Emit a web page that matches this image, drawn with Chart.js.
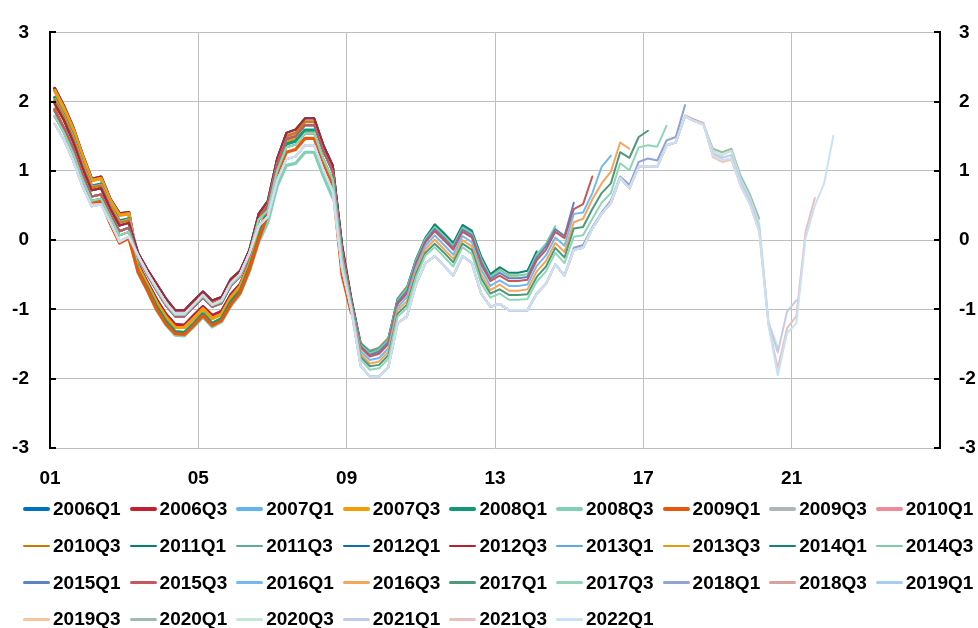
<!DOCTYPE html>
<html><head><meta charset="utf-8">
<script src="https://cdn.jsdelivr.net/npm/chart.js@4"></script>
<style>
html,body{margin:0;padding:0;background:#fff;}
#wrap{position:relative;width:978px;height:628px;overflow:hidden;font-family:"Liberation Sans",Arial,sans-serif;}
#chartBox{position:absolute;left:0;top:0;width:978px;height:500px;}
#legend{position:absolute;left:0;top:0;width:978px;height:628px;pointer-events:none;}
.li{position:absolute;height:24px;display:flex;align-items:center;white-space:nowrap;font-weight:bold;font-size:19px;color:#000;}
.li .ln{width:27px;margin-right:3px;border-radius:2px;}
</style></head>
<body><div id="wrap"><div id="chartBox"><canvas id="c"></canvas></div><div id="legend"></div></div>
<script>
// ---- labels ----
const vintages = ['2006Q1','2006Q3','2007Q1','2007Q3','2008Q1','2008Q3','2009Q1','2009Q3','2010Q1',
  '2010Q3','2011Q1','2011Q3','2012Q1','2012Q3','2013Q1','2013Q3','2014Q1','2014Q3',
  '2015Q1','2015Q3','2016Q1','2016Q3','2017Q1','2017Q3','2018Q1','2018Q3','2019Q1',
  '2019Q3','2020Q1','2020Q3','2021Q1','2021Q3','2022Q1'];
const colors = ['#0070C0','#C3202F','#63B3EE','#F59D00','#0E9A78','#7FD1B3','#E8580C','#ADB5BD','#F08A96',
  '#CC7A00','#00806E','#5BAE8E','#0B6FB0','#B8202E','#5AAAE6','#E39A0F','#0F8573','#7ACCAA',
  '#5B84C4','#C8575A','#72B8F2','#F5A65B','#4C9A78','#8ED6B6','#8FA4D2','#D9A09E','#A9CCF2',
  '#F8C49A','#9DBCAE','#BFE8D5','#C3CCE6','#E8C0BE','#C9E0F7'];
const xTickLabels = ['01','05','09','13','17','21'];
const quartersPerTick = 16;
const quartersOnAxis = 96;

// ---- values (quarterly, starting 2001Q1) ----
const hist06 = [2.19,1.93,1.62,1.23,0.88,0.91,0.59,0.38,0.40,-0.35,-0.61,-0.86,-1.07,-1.22,-1.23,-1.09,-0.96,-1.09,-1.03,-0.79,-0.64,-0.32,0.14];
const hist07 = [2.16,1.90,1.60,1.21,0.86,0.89,0.57,0.36,0.38,-0.38,-0.64,-0.90,-1.11,-1.26,-1.26,-1.13,-0.99,-1.13,-1.07,-0.83,-0.67,-0.35,0.10,0.49,1.08,1.43,1.48];
const v2008Q1 = [2.06,1.80,1.50,1.11,0.78,0.81,0.50,0.28,0.31,-0.44,-0.69,-0.96,-1.17,-1.32,-1.33,-1.20,-1.06,-1.20,-1.13,-0.89,-0.73,-0.40,0.03,0.46,1.04,1.39,1.43,1.59,1.59];
const v2008Q3 = [2.00,1.75,1.45,1.07,0.74,0.77,0.47,0.23,0.27,-0.47,-0.73,-1.01,-1.22,-1.37,-1.38,-1.25,-1.11,-1.25,-1.18,-0.95,-0.78,-0.45,-0.03,0.26,0.78,1.08,1.11,1.27,1.27,0.92,0.61];
const v2009Q1 = [1.89,1.62,1.30,0.90,0.55,0.56,0.24,-0.04,0.03,-0.46,-0.72,-1.00,-1.21,-1.35,-1.36,-1.23,-1.09,-1.23,-1.16,-0.93,-0.76,-0.43,0.00,0.38,0.94,1.27,1.31,1.47,1.47,1.10,0.80,-0.50,-1.05];
const hist09 = [2.03,1.78,1.47,1.09,0.76,0.79,0.49,0.25,0.29,-0.21,-0.45,-0.67,-0.88,-1.05,-1.05,-0.91,-0.78,-0.91,-0.86,-0.60,-0.47,-0.17,0.34,0.54,1.14,1.50,1.55,1.71,1.71,1.33,1.03,-0.11,-0.87];
const hist11 = [1.97,1.73,1.42,1.04,0.72,0.75,0.45,0.21,0.25,-0.18,-0.42,-0.63,-0.84,-1.01,-1.01,-0.87,-0.74,-0.87,-0.82,-0.56,-0.44,-0.14,0.38,0.57,1.18,1.55,1.60,1.76,1.76,1.37,1.08,-0.07,-0.85];
const hist13 = [1.87,1.62,1.33,0.95,0.63,0.66,0.38,0.13,0.18,-0.25,-0.50,-0.73,-0.94,-1.10,-1.10,-0.96,-0.83,-0.96,-0.91,-0.66,-0.52,-0.22,0.28,0.51,1.10,1.46,1.50,1.66,1.66,1.28,0.99,-0.16,-0.90];
const hist16 = [1.79,1.55,1.25,0.88,0.57,0.60,0.33,0.07,0.12,-0.24,-0.48,-0.71,-0.92,-1.08,-1.08,-0.94,-0.81,-0.94,-0.89,-0.64,-0.51,-0.20,0.30,0.43,1.00,1.34,1.38,1.54,1.54,1.17,0.87,-0.26,-0.95];
const late = [1.68,1.45,1.15,0.78,0.49,0.52,0.26,-0.02,0.05,
  -0.22,-0.47,-0.69,-0.90,-1.06,-1.06,-0.93,-0.79,-0.93,-0.87,-0.62,-0.49,-0.19,0.20,
  0.34,0.86,1.17,1.21,1.37,1.37,1.01,0.70,-0.41,-1.00,
  -1.81,-1.97,-1.97,-1.83,-1.20,-1.10,-0.63,-0.33,-0.23,-0.37,-0.51,-0.23,-0.33,-0.77,-0.96,-0.92,-1.01,-1.01,-1.01,-0.77,-0.63,-0.35,-0.51,
  -0.14,-0.11,0.17,0.38,0.54,0.90,0.75,1.06,1.07,1.06,1.37,1.41,1.79,1.72,1.67,1.22,1.15,1.18,0.78,0.52,0.12,-1.22,-1.95,-1.34,-1.20,0.03,0.50,0.82,1.51];

// recent quarters of each vintage (from 2009Q2 on, or later where stated)
const tail2009Q3 = [-1.51,-1.63];
const tail2010Q1 = [-1.52,-1.64,-1.60,-1.46];
const tail2010Q3 = [-1.48,-1.60,-1.55,-1.41,-0.84,-0.67];
const tail2011Q1 = [-1.50,-1.62,-1.57,-1.43,-0.86,-0.69,-0.28,0.03];
const tail2011Q3 = [-1.49,-1.61,-1.56,-1.42,-0.85,-0.68,-0.27,0.04,0.22,0.09];
const tail2012Q1 = [-1.50,-1.62,-1.58,-1.44,-0.86,-0.70,-0.28,0.03,0.20,0.07,-0.07,0.19];
const tail2012Q3 = [-1.51,-1.64,-1.59,-1.45,-0.88,-0.71,-0.30,0.01,0.18,0.05,-0.09,0.18,0.09,-0.28];
const tail2013Q1 = [-1.49,-1.61,-1.57,-1.43,-0.85,-0.69,-0.27,0.03,0.21,0.08,-0.06,0.20,0.12,-0.25,-0.51,-0.41];
const tail2013Q3 = [-1.51,-1.63,-1.58,-1.44,-0.87,-0.70,-0.29,0.02,0.19,0.06,-0.08,0.18,0.10,-0.27,-0.53,-0.43,-0.51,-0.51];
const tail2014Q1 = [-1.50,-1.62,-1.58,-1.44,-0.86,-0.70,-0.28,0.03,0.23,0.10,-0.04,0.22,0.14,-0.23,-0.49,-0.39,-0.47,-0.47,-0.44,-0.16];
const tail2014Q3 = [-1.51,-1.63,-1.58,-1.44,-0.87,-0.70,-0.29,0.02,0.19,0.06,-0.08,0.18,0.10,-0.27,-0.53,-0.43,-0.51,-0.51,-0.49,-0.21,-0.05,0.20];
const tail2015Q1 = [-1.53,-1.66,-1.61,-1.47,-0.89,-0.74,-0.32,-0.01,0.16,0.03,-0.11,0.15,0.07,-0.31,-0.56,-0.47,-0.55,-0.55,-0.53,-0.25,-0.09,0.16,0.06,0.54];
const tail2015Q3 = [-1.55,-1.68,-1.64,-1.50,-0.92,-0.77,-0.34,-0.03,0.13,0.00,-0.14,0.12,0.04,-0.35,-0.59,-0.51,-0.59,-0.59,-0.57,-0.29,-0.14,0.12,0.03,0.45,0.52,0.92];
const tail2016Q1 = [-1.60,-1.73,-1.70,-1.56,-0.97,-0.82,-0.39,-0.08,0.07,-0.07,-0.21,0.06,-0.03,-0.42,-0.66,-0.58,-0.66,-0.66,-0.64,-0.37,-0.22,0.04,-0.08,0.38,0.40,0.68,1.06,1.22];
const tail2016Q3 = [-1.64,-1.78,-1.75,-1.61,-1.01,-0.88,-0.44,-0.13,0.01,-0.13,-0.27,0.00,-0.09,-0.49,-0.72,-0.64,-0.73,-0.73,-0.71,-0.45,-0.30,-0.04,-0.17,0.26,0.31,0.59,0.82,0.99,1.41,1.32];
const tail2017Q1 = [-1.68,-1.82,-1.80,-1.66,-1.06,-0.93,-0.48,-0.18,-0.05,-0.18,-0.32,-0.05,-0.14,-0.55,-0.77,-0.71,-0.79,-0.79,-0.78,-0.53,-0.38,-0.11,-0.25,0.17,0.19,0.45,0.68,0.82,1.27,1.19,1.49,1.58];
const tail2017Q3 = [-1.72,-1.87,-1.85,-1.71,-1.10,-0.98,-0.53,-0.22,-0.10,-0.24,-0.38,-0.10,-0.20,-0.62,-0.83,-0.77,-0.86,-0.86,-0.85,-0.60,-0.45,-0.18,-0.33,0.05,0.07,0.31,0.54,0.68,1.11,1.01,1.34,1.37,1.35,1.65];
const tail2018Q1 = [-0.11,-0.07,0.19,0.40,0.57,0.92,0.80,1.13,1.18,1.15,1.44,1.49,1.95];   // from 2015Q1
const tail2018Q3 = [1.80,1.74,1.69];                                                      // from 2018Q1
const tail2019Q1 = [1.68,1.25,1.19];                                                      // from 2018Q3
const tail2019Q3 = [1.20,1.13,1.16,0.79];                                                 // from 2018Q4
const tail2020Q1 = [1.32,1.27,1.32,0.93,0.66,0.31];                                       // from 2018Q4
const tail2020Q3 = [1.29,1.23,1.29,0.88,0.61,0.24,-1.18,-1.55];                           // from 2018Q4
const tail2021Q1 = [1.25,1.19,1.23,0.84,0.57,0.18,-1.20,-1.62,-1.03,-0.87];               // from 2018Q4
const tail2021Q3 = [-1.22,-1.85,-1.27,-1.10,0.12,0.61];                                   // from 2020Q2

const series = [
  hist06.slice(0,21), hist06, hist07.slice(0,25), hist07, v2008Q1, v2008Q3, v2009Q1,
  hist09.concat(tail2009Q3), hist09.concat(tail2010Q1), hist09.concat(tail2010Q3),
  hist11.concat(tail2011Q1), hist11.concat(tail2011Q3), hist11.concat(tail2012Q1), hist11.concat(tail2012Q3),
  hist13.concat(tail2013Q1), hist13.concat(tail2013Q3), hist13.concat(tail2014Q1), hist13.concat(tail2014Q3),
  hist13.concat(tail2015Q1), hist13.concat(tail2015Q3),
  hist16.concat(tail2016Q1), hist16.concat(tail2016Q3), hist16.concat(tail2017Q1), hist16.concat(tail2017Q3),
  late.slice(0,56).concat(tail2018Q1), late.slice(0,68).concat(tail2018Q3), late.slice(0,70).concat(tail2019Q1),
  late.slice(0,71).concat(tail2019Q3), late.slice(0,71).concat(tail2020Q1), late.slice(0,71).concat(tail2020Q3),
  late.slice(0,71).concat(tail2021Q1), late.slice(0,77).concat(tail2021Q3), late
];

const thickCount = 9;
const FONT = '"Liberation Sans", Arial, sans-serif';

const datasets = vintages.map((name, k) => ({
  label: name,
  data: series[k].map((v, i) => ({x: i + 0.5, y: v})),
  borderColor: colors[k],
  backgroundColor: colors[k],
  borderWidth: k < thickCount ? 3.2 : 2,
  pointRadius: 0,
  pointHoverRadius: 0,
  tension: 0,
  fill: false,
  borderJoinStyle: 'round',
  borderCapStyle: 'round',
  order: vintages.length - k,
  yAxisID: 'y'
}));

const innerTicks = {
  id: 'innerTicks',
  afterDraw(chart) {
    const ctx = chart.ctx;
    const area = chart.chartArea;
    ctx.save();
    ctx.strokeStyle = '#000';
    ctx.lineWidth = 2;
    ['y', 'y2'].forEach(id => {
      const sc = chart.scales[id];
      sc.ticks.forEach(t => {
        const py = Math.round(sc.getPixelForValue(t.value));
        ctx.beginPath();
        if (id === 'y') { ctx.moveTo(area.left, py); ctx.lineTo(area.left + 6, py); }
        else { ctx.moveTo(area.right - 6, py); ctx.lineTo(area.right, py); }
        ctx.stroke();
      });
    });
    ctx.restore();
  }
};

const tickFont = {family: FONT, size: 19, weight: 'bold'};

new Chart(document.getElementById('c'), {
  type: 'line',
  data: {datasets},
  plugins: [innerTicks],
  options: {
    responsive: true,
    maintainAspectRatio: false,
    animation: false,
    devicePixelRatio: 1,
    layout: {padding: {top: 22, left: 0, right: 0, bottom: 0}},
    plugins: {legend: {display: false}, tooltip: {enabled: false}},
    scales: {
      x: {
        type: 'linear', min: 0, max: quartersOnAxis,
        ticks: {stepSize: quartersPerTick, autoSkip: false, maxRotation: 0, padding: 19, color: '#000', font: tickFont,
          callback: v => { const s = xTickLabels[v / quartersPerTick]; return s === undefined ? '' : s; }},
        grid: {color: '#BFBFBF', lineWidth: 1, drawTicks: false},
        border: {display: false},
        afterFit: s => { s.height = 52; }
      },
      y: {
        position: 'left', min: -3, max: 3,
        ticks: {stepSize: 1, padding: 21, color: '#000', font: tickFont},
        grid: {color: '#BFBFBF', lineWidth: 1, drawTicks: false},
        border: {display: true, color: '#000', width: 2},
        afterFit: s => { s.width = 50; }
      },
      y2: {
        position: 'right', min: -3, max: 3,
        ticks: {stepSize: 1, padding: 19, color: '#000', font: tickFont},
        grid: {display: false, drawTicks: false},
        border: {display: true, color: '#000', width: 2},
        afterFit: s => { s.width = 38; }
      }
    }
  }
});

// legend (HTML), 9 columns
const legend = document.getElementById('legend');
vintages.forEach((name, k) => {
  const col = k % 9, row = Math.floor(k / 9);
  const it = document.createElement('div');
  it.className = 'li';
  it.style.left = (23 + col * 106.6) + 'px';
  it.style.top = (509 + row * 36.8 - 12) + 'px';
  const ln = document.createElement('span');
  ln.className = 'ln';
  ln.style.height = (k < thickCount ? 4 : 2.5) + 'px';
  ln.style.background = colors[k];
  const tx = document.createElement('span');
  tx.textContent = name;
  it.appendChild(ln); it.appendChild(tx);
  legend.appendChild(it);
});
</script>
</body></html>
